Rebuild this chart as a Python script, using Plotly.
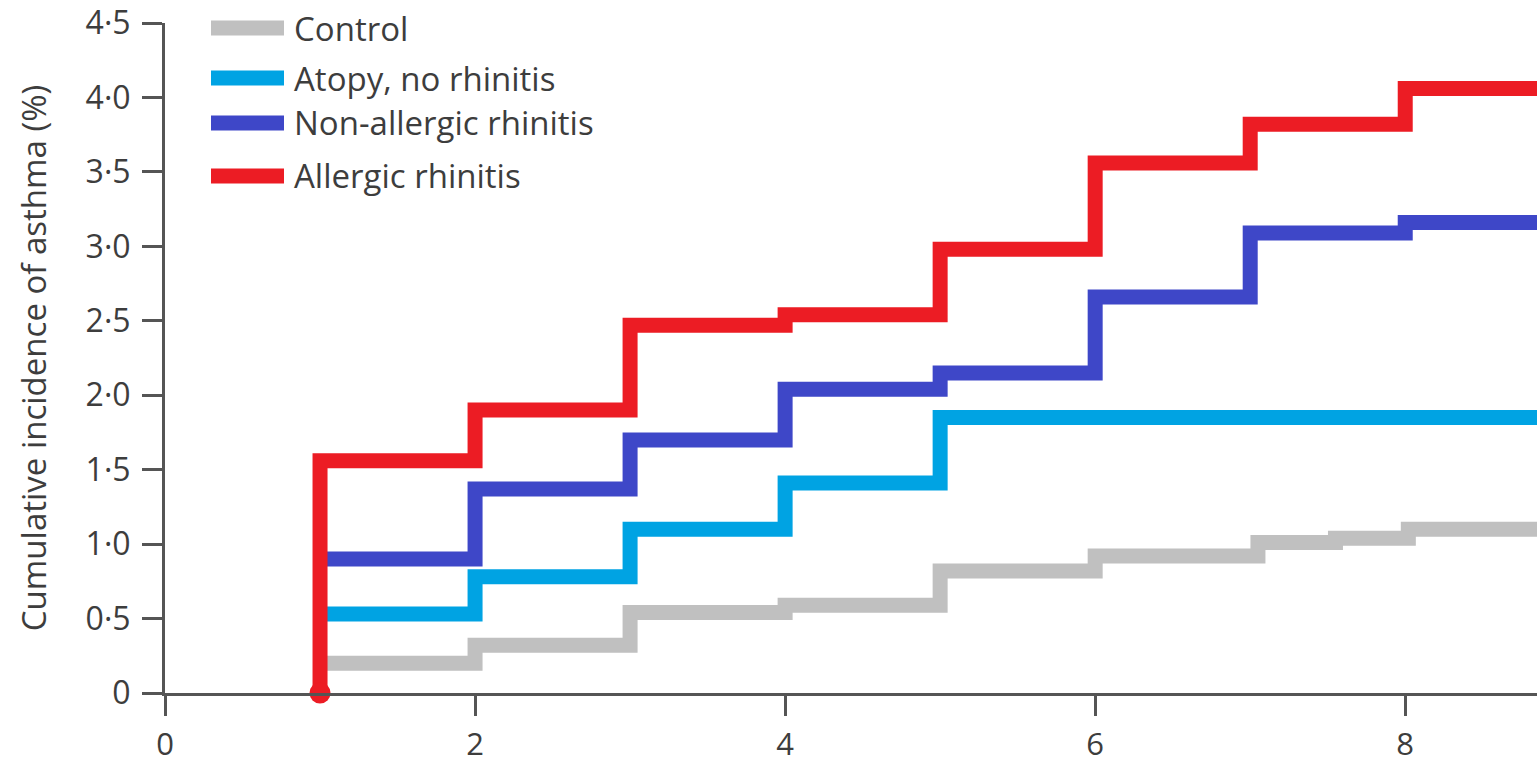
import plotly.graph_objects as go

# ---- data ----
series_names = ["Control", "Atopy, no rhinitis", "Non-allergic rhinitis", "Allergic rhinitis"]
series_colors = ["#c0c0c0", "#00a3e3", "#3e47c8", "#ec1c24"]

control_x = [1, 2, 3, 4, 5, 6, 7.05, 7.55, 8.02, 8.85]
control_y = [0.20, 0.32, 0.54, 0.59, 0.82, 0.92, 1.01, 1.04, 1.10, 1.10]

atopy_x = [1.03, 2, 3, 4, 5, 8.85]
atopy_y = [0.53, 0.78, 1.10, 1.41, 1.85, 1.85]

nonallergic_x = [1.03, 2, 3, 4, 5, 6, 7, 8, 8.85]
nonallergic_y = [0.90, 1.37, 1.70, 2.04, 2.15, 2.66, 3.09, 3.16, 3.16]

allergic_x = [1, 1, 2, 3, 4, 5, 6, 7, 8, 8.85]
allergic_y = [0, 1.56, 1.90, 2.47, 2.54, 2.98, 3.56, 3.82, 4.06, 4.06]

y_tickvals = [0, 0.5, 1.0, 1.5, 2.0, 2.5, 3.0, 3.5, 4.0, 4.5]
y_ticktext = ["0", "0·5", "1·0", "1·5", "2·0", "2·5", "3·0", "3·5", "4·0", "4·5"]
x_tickvals = [0, 2, 4, 6, 8]
x_ticktext = ["0", "2", "4", "6", "8"]

y_title = "Cumulative incidence of asthma (%)"

FONT = "Open Sans"
TXT = "#3d3d3d"
AX = "#555555"

fig = go.Figure()
all_x = [control_x, atopy_x, nonallergic_x, allergic_x]
all_y = [control_y, atopy_y, nonallergic_y, allergic_y]
for name, col, xs, ys in zip(series_names, series_colors, all_x, all_y):
    fig.add_trace(go.Scatter(x=xs, y=ys, mode="lines", name=name,
                             line=dict(color=col, width=15, shape="hv"),
                             showlegend=False, cliponaxis=False))

# red start dot
fig.add_trace(go.Scatter(x=[allergic_x[0]], y=[allergic_y[0]], mode="markers",
                         marker=dict(color=series_colors[3], size=21),
                         showlegend=False, cliponaxis=False))

# manual legend
W, H = 1537, 764
L, R, T, B = 165, 0, 23, 71
pw, ph = W - L - R, H - T - B
def px2paper(px, py):
    return (px - L) / pw, (H - B - py) / ph

leg_rows = [28, 78, 123, 176]
shapes = []
annotations = []
for name, col, py in zip(series_names, series_colors, leg_rows):
    x0, y0 = px2paper(211, py)
    x1, _ = px2paper(284, py)
    shapes.append(dict(type="line", xref="paper", yref="paper", x0=x0, x1=x1, y0=y0, y1=y0,
                       line=dict(color=col, width=15)))
    tx, ty = px2paper(292, py)
    annotations.append(dict(xref="paper", yref="paper", x=tx, y=ty, text=name, showarrow=False,
                            xanchor="left", yanchor="middle",
                            font=dict(family=FONT, size=33, color=TXT)))

fig.update_layout(
    width=W, height=H,
    margin=dict(l=L, r=R, t=T, b=B, pad=0, autoexpand=False),
    paper_bgcolor="white", plot_bgcolor="white",
    shapes=shapes, annotations=annotations,
    showlegend=False,
    font=dict(family=FONT, color=TXT),
)
fig.update_xaxes(range=[0, 8.85], tickvals=x_tickvals, ticktext=x_ticktext,
                 automargin=False,
                 showgrid=False, zeroline=False, showline=True, linecolor=AX, linewidth=3,
                 ticks="outside", ticklen=20, tickwidth=3, tickcolor=AX,
                 ticklabelstandoff=2,
                 tickfont=dict(family=FONT, size=31, color=TXT))
fig.update_yaxes(range=[0, 4.5], tickvals=y_tickvals, ticktext=y_ticktext,
                 automargin=False,
                 showgrid=False, zeroline=False, showline=True, linecolor=AX, linewidth=3,
                 ticks="outside", ticklen=20, tickwidth=3, tickcolor=AX,
                 ticklabelstandoff=5,
                 tickfont=dict(family=FONT, size=32, color=TXT),
                 title=dict(text=y_title, font=dict(family=FONT, size=33, color=TXT), standoff=30))

fig.write_html("out.html", config={"displayModeBar": False},
               post_script="document.body.style.margin='0';")
